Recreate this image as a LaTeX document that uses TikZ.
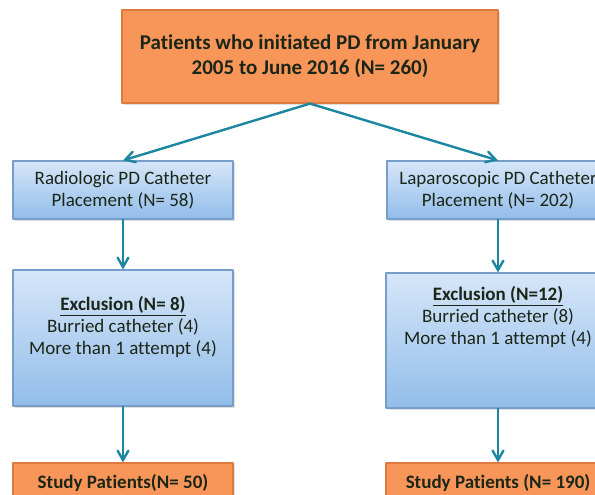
\documentclass[tikz,border=0pt]{standalone}
\usepackage{fontspec}
\setmainfont[Ligatures=NoCommon]{Carlito}
\usetikzlibrary{arrows,shadows}
\definecolor{boxorange}{RGB}{247,150,88}
\definecolor{orangeline}{RGB}{222,122,62}
\definecolor{bluetop}{RGB}{214,230,248}
\definecolor{bluebot}{RGB}{146,189,234}
\definecolor{blueline}{RGB}{118,158,200}
\definecolor{flowteal}{RGB}{28,134,160}
\definecolor{textdark}{RGB}{28,38,24}

\begin{document}
\begin{tikzpicture}[line cap=round,line join=round,>=angle 60,x=0.5pt,y=-0.5pt,
	orangebox/.style={draw=orangeline,fill=boxorange,line width=.6pt,text=textdark,
		font=\fontsize{10.5}{12.5}\selectfont\bfseries,align=center,inner sep=0pt,
		drop shadow={shadow xshift=.8pt,shadow yshift=-.8pt,opacity=.25}},
	bluebox/.style={draw=blueline,top color=bluetop,bottom color=bluebot,line width=.6pt,
		text=textdark,font=\fontsize{9.5}{11.2}\selectfont,align=center,inner sep=0pt,
		drop shadow={shadow xshift=.8pt,shadow yshift=-.8pt,opacity=.25}},
	flow/.style={->,draw=flowteal,line width=1.2pt}]
			\useasboundingbox (0,0) rectangle (595,494);
			%boites
			\node[orangebox,minimum width=188pt,minimum height=46.5pt] (start) at (310,56.5) {Patients who initiated PD from January\\2005 to June 2016 (N= 260)};
			\node[bluebox,minimum width=110pt,minimum height=29pt] (radio) at (123,190) {Radiologic PD Catheter\\Placement (N= 58)};
			\node[bluebox,minimum width=111pt,minimum height=29pt] (lapa) at (498,190) {Laparoscopic PD Catheter\\Placement (N= 202)};
			\node[bluebox,minimum width=110pt,minimum height=68pt] (exradio) at (123,338) {};
			\node[bluebox,minimum width=112pt,minimum height=67.5pt] (exlapa) at (498,340.5) {};
			\node[text=textdark,font=\fontsize{9.5}{11.2}\selectfont,align=center] (exradiotxt) at (123,327) {\underline{\textbf{Exclusion (N= 8)}}\\Burried catheter (4)\\More than 1 attempt (4)};
			\node[text=textdark,font=\fontsize{9.5}{11.2}\selectfont,align=center] (exlapatxt) at (498,317) {\underline{\textbf{Exclusion (N=12)}}\\Burried catheter (8)\\More than 1 attempt (4)};
			\node[orangebox,minimum width=110pt,minimum height=20pt,font=\fontsize{9.5}{11}\selectfont\bfseries] (studradio) at (123,483) {Study Patients(N= 50)};
			\node[orangebox,minimum width=112pt,minimum height=20pt,font=\fontsize{9.5}{11}\selectfont\bfseries] (studlapa) at (498,483) {Study Patients (N= 190)};
			%fleches
			\draw[flow] (start.south) -- (radio.north);
			\draw[flow] (start.south) -- (lapa.north);
			\draw[flow] (radio.south) -- (exradio.north);
			\draw[flow] (lapa.south) -- (exlapa.north);
			\draw[flow] (exradio.south) -- (studradio.north);
			\draw[flow] (exlapa.south) -- (studlapa.north);
\end{tikzpicture}
\end{document}
